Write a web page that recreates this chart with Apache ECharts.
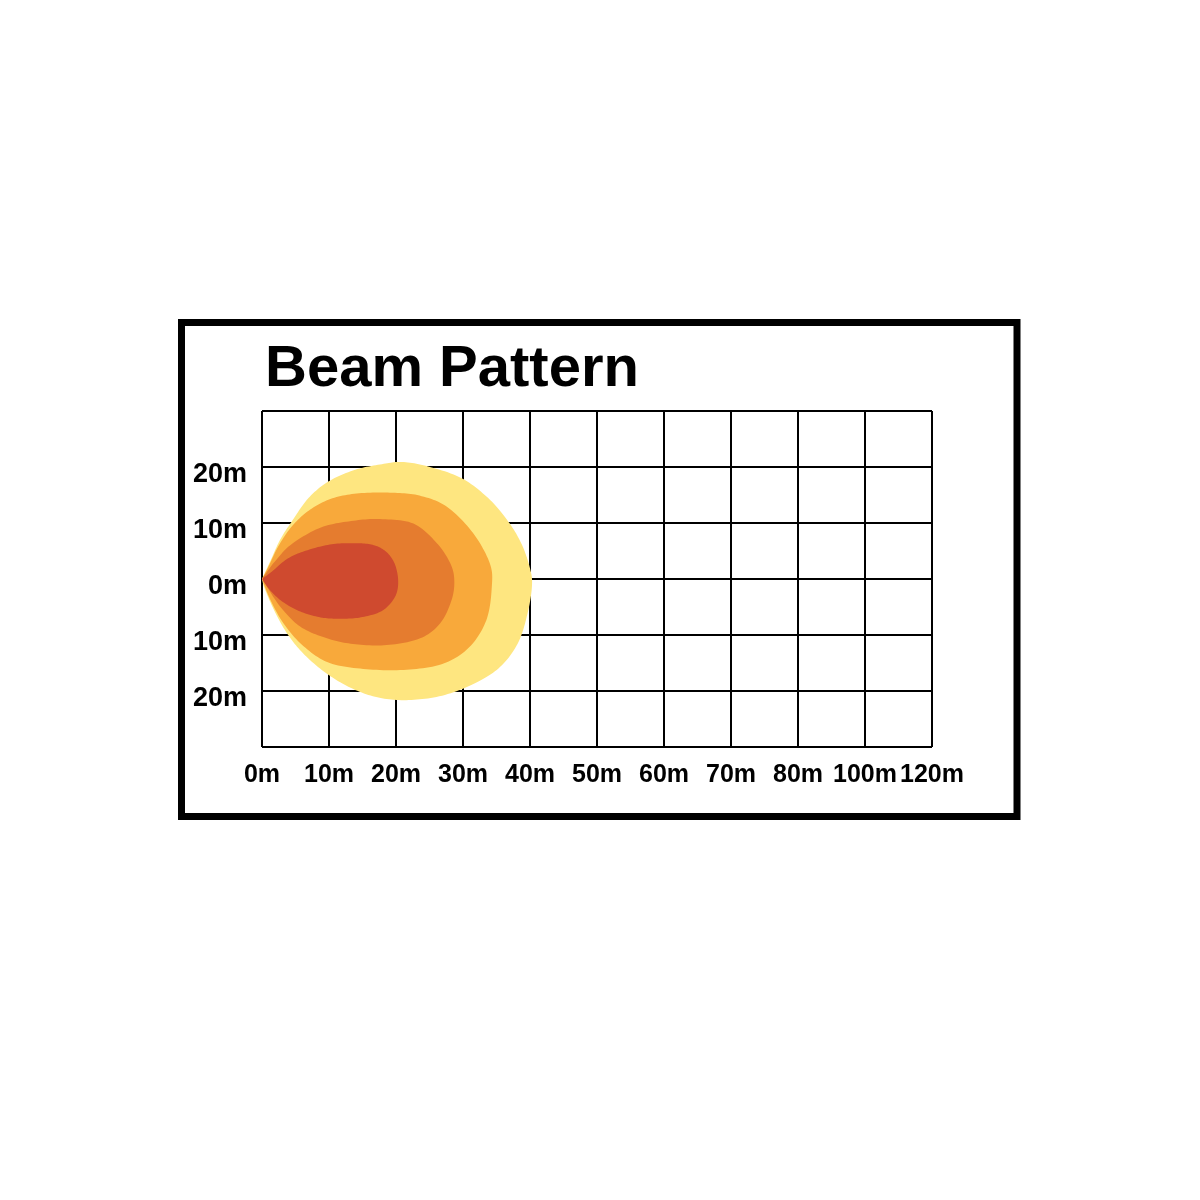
<!DOCTYPE html>
<html><head><meta charset="utf-8">
<script src="https://cdn.jsdelivr.net/npm/echarts@6/dist/echarts.min.js"></script>
<style>html,body{margin:0;padding:0;background:#fff}#c{width:1200px;height:1200px}</style>
</head><body><div id="c"></div>
<script>
const titleText = 'Beam Pattern';
const xLabels = ['0m','10m','20m','30m','40m','50m','60m','70m','80m','100m','120m'];
const yLabels = ['', '20m','10m','0m','10m','20m',''];

// beam zones, outline points [distance (axis units), lateral offset (m)]
const zoneYellow = [[0,0],[1.2,3.1],[2.7,7.0],[4.4,10.2],[6.9,14.4],[9.9,17.4],[13.9,19.5],[17.9,20.5],[20.9,20.9],[24.8,20.1],[29.8,18.0],[33.8,14.4],[36.8,10.2],[38.8,6.1],[40.0,1.9],[40.3,-1.1],[39.7,-5.8],[38.3,-11.2],[35.8,-15.4],[32.3,-18.3],[27.3,-20.7],[22.3,-21.6],[17.9,-21.3],[13.9,-19.8],[9.9,-17.1],[6.4,-13.6],[3.9,-10.0],[1.9,-5.8],[0.4,-1.7]];
const zoneOrange = [[0,0],[1.0,2.3],[2.5,6.0],[4.6,9.6],[7.2,12.4],[10.5,14.4],[14.5,15.3],[19.5,15.4],[23.5,14.9],[27.6,12.9],[31.5,8.2],[34.0,2.8],[34.3,-1.4],[33.5,-7.3],[31.0,-12.1],[27.1,-15.1],[21.6,-16.2],[15.6,-16.1],[10.1,-15.0],[6.2,-12.0],[3.2,-7.9],[1.2,-3.6]];
const zoneDark = [[0,0],[1.9,3.1],[4.5,6.3],[8.8,9.2],[13.3,10.35],[17.6,10.7],[22.6,9.9],[26.1,6.4],[28.1,2.8],[28.7,-0.2],[28.3,-3.75],[26.6,-7.9],[23.6,-10.6],[18.6,-11.8],[13.6,-11.6],[9.7,-10.6],[5.7,-8.5],[2.7,-4.9],[0.6,-1.1]];
const zoneRed = [[0,0],[1.45,1.3],[3.9,3.7],[6.9,5.2],[10.4,6.2],[13.9,6.4],[16.5,6.1],[18.4,5.0],[19.7,3.0],[20.3,0.2],[20.1,-2.5],[19.0,-4.6],[17.4,-6.0],[14.5,-6.9],[11.4,-7.1],[8.5,-6.8],[5.5,-5.7],[3.0,-4.0],[1.2,-2.0]];

const zones = [
  {name:'zone1', pts: zoneYellow, color:'#FEE680'},
  {name:'zone2', pts: zoneOrange, color:'#F8A93B'},
  {name:'zone3', pts: zoneDark, color:'#E57C2F'},
  {name:'zone4', pts: zoneRed, color:'#CF4A2F'}
];

// closed Catmull-Rom (Hermite) sampling in pixel space; first point is a cusp
function smoothOutline(px){
  const n = px.length, out = [];
  const tan = (i, side) => {
    const prev = px[(i-1+n)%n], next = px[(i+1)%n], cur = px[i];
    if (i === 0) return side === 'out' ? [next[0]-cur[0], next[1]-cur[1]] : [cur[0]-prev[0], cur[1]-prev[1]];
    return [(next[0]-prev[0])/2, (next[1]-prev[1])/2];
  };
  for (let i=0;i<n;i++){
    const a = px[i], b = px[(i+1)%n];
    const ma = tan(i,'out'), mb = tan((i+1)%n,'in');
    const steps = 12;
    for (let s=0;s<steps;s++){
      const t = s/steps, t2=t*t, t3=t2*t;
      const h00=2*t3-3*t2+1, h10=t3-2*t2+t, h01=-2*t3+3*t2, h11=t3-t2;
      out.push([h00*a[0]+h10*ma[0]+h01*b[0]+h11*mb[0], h00*a[1]+h10*ma[1]+h01*b[1]+h11*mb[1]]);
    }
  }
  return out;
}

const labelFont = "'Liberation Sans',Arial,sans-serif";
const chart = echarts.init(document.getElementById('c'));
chart.setOption({
  backgroundColor:'#fff',
  animation:false,
  title:{text:titleText,left:260,top:336,textStyle:{fontFamily:"'Liberation Sans',Arial,sans-serif",fontWeight:'bold',fontSize:58,color:'#000'}},
  graphic:[{type:'rect',shape:{x:181.5,y:322.5,width:835.5,height:494},style:{fill:'none',stroke:'#000',lineWidth:7},z:100}],
  grid:{left:262,top:411,width:670,height:336},
  xAxis:{type:'value',min:0,max:100,interval:10,
    axisLine:{show:false},axisTick:{show:false},
    splitLine:{show:true,lineStyle:{color:'#000',width:2}},
    axisLabel:{margin:16,fontFamily:labelFont,fontWeight:'bold',fontSize:25,color:'#000',
      showMinLabel:true,showMaxLabel:true,hideOverlap:false,
      formatter:v=>xLabels[Math.round(v/10)]}},
  yAxis:{type:'value',min:-30,max:30,interval:10,
    axisLine:{show:false},axisTick:{show:false},
    splitLine:{show:true,lineStyle:{color:'#000',width:2}},
    axisLabel:{margin:15,fontFamily:labelFont,fontWeight:'bold',fontSize:27,color:'#000',
      formatter:v=>'{t|'+yLabels[Math.round((v+30)/10)]+'}',
      rich:{t:{fontFamily:labelFont,fontWeight:'bold',fontSize:27,color:'#000',padding:[16,0,0,0]}}}},
  series: zones.map(z=>({
    type:'custom',name:z.name,data:z.pts,
    encode:{x:0,y:1},
    renderItem:(params,api)=>{
      if(params.dataIndex!==0) return;
      const px = z.pts.map(p=>api.coord(p));
      return {type:'polygon',shape:{points:smoothOutline(px)},style:{fill:z.color}};
    }
  }))
});
</script></body></html>
